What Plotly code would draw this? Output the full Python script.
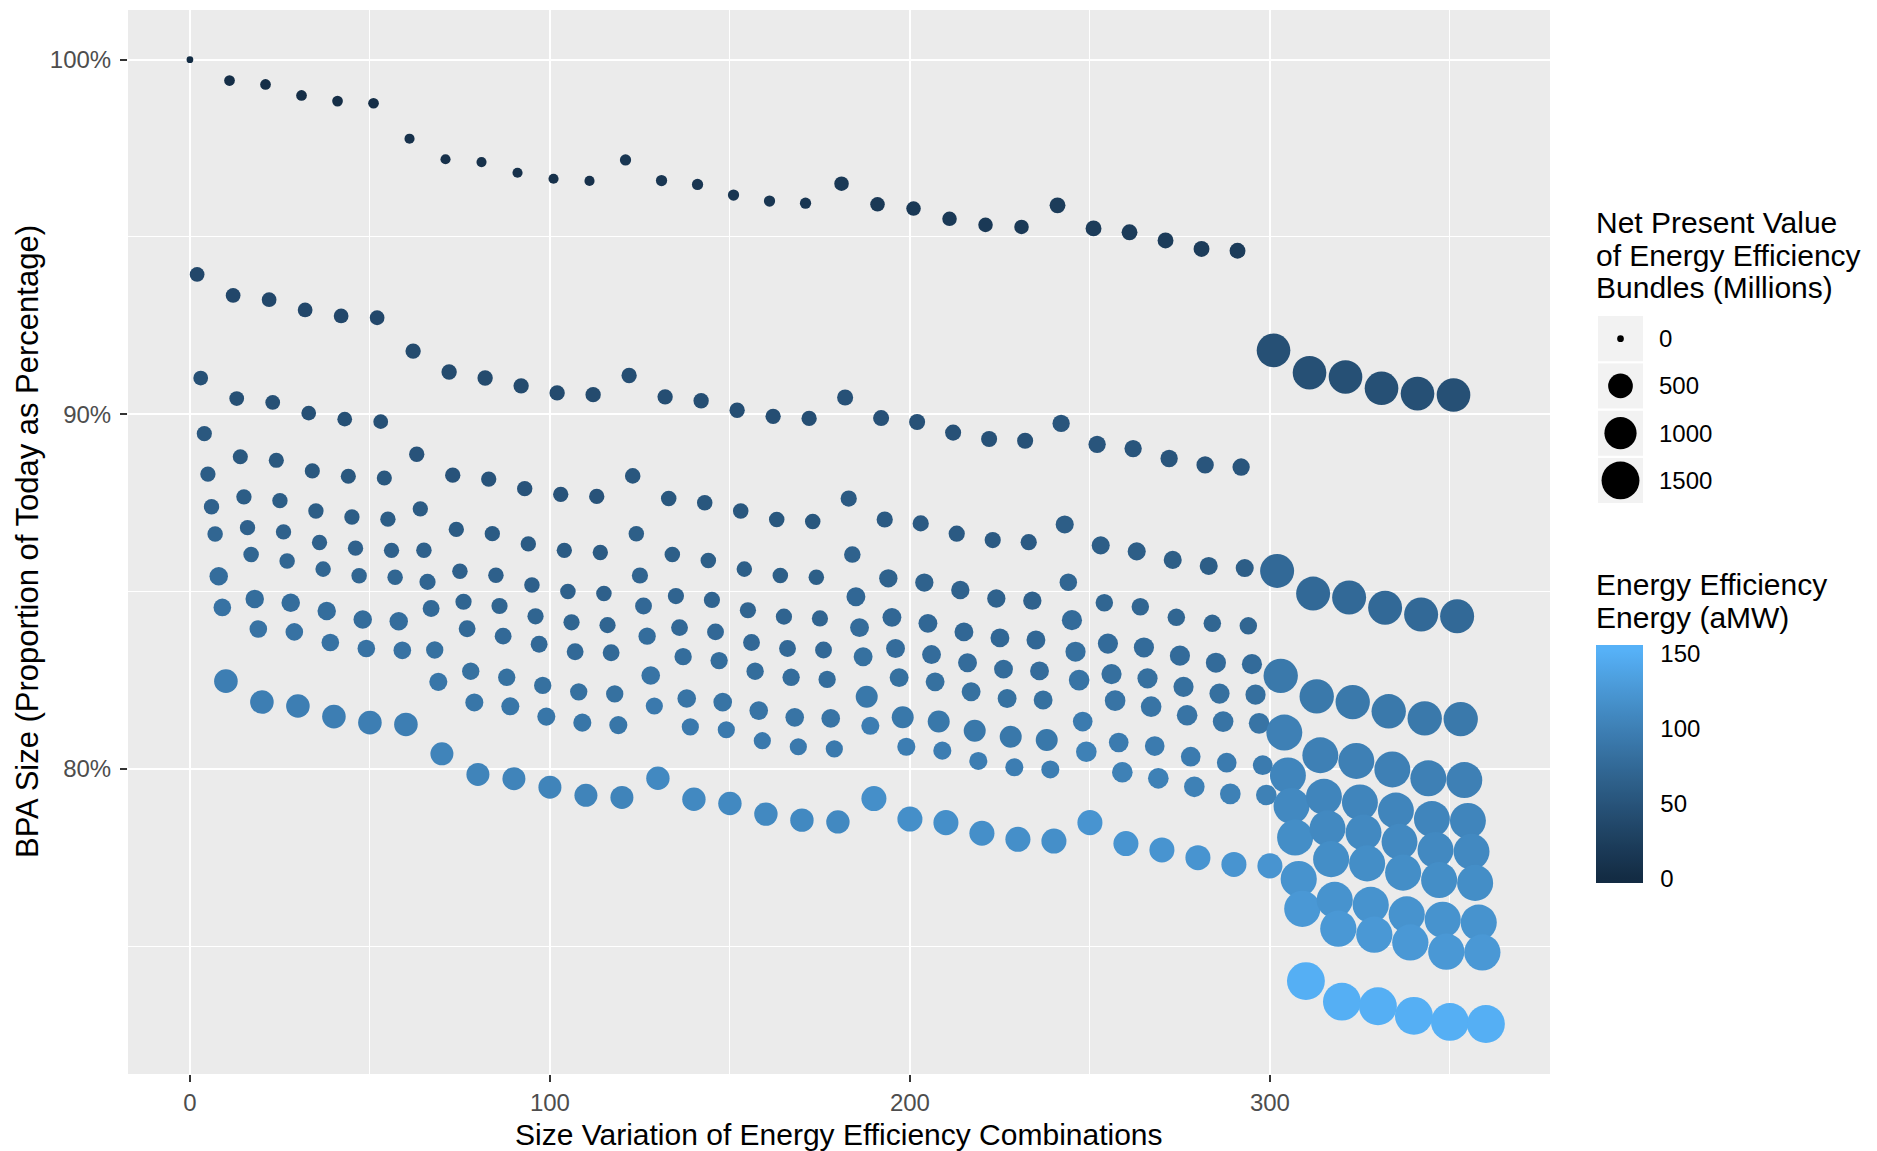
import math
import plotly.graph_objects as go

# ---------------- data ----------------
# combination index (x) per bundle row, left block (clusters 0..29)
X_A = [0, 11, 21, 31, 41, 51, 61, 71, 81, 91, 101, 111, 121, 131, 141, 151, 161, 171, 181, 191, 201, 211, 221, 231, 241, 251, 261, 271, 281, 291]
X_B = [2, 12, 22, 32, 42, 52, 62, 72, 82, 92, 102, 112, 122, 132, 142, 152, 162, 172, 182, 192, 202, 212, 222, 232, 242, 252, 262, 272, 282, 292]
X_C = [3, 13, 23, 33, 43, 53, 63, 73, 83, 93, 103, 113, 123, 133, 143, 153, 163, 173, 183, 193, 203, 213, 223, 233, 243, 253, 263, 273, 283, 293]
X_D = [4, 14, 24, 34, 44, 54, 64, 74, 84, 94, 104, 114, 124, 134, 144, 154, 164, 174, 184, 194, 204, 214, 224, 234, 244, 254, 264, 274, 284, 294]
X_E = [5, 15, 25, 35, 45, 55, 65, 75, 85, 95, 105, 115, 125, 135, 145, 155, 165, 175, 185, 195, 205, 215, 225, 235, 245, 255, 265, 275, 285, 295]
X_F = [6, 16, 26, 36, 46, 56, 66, 76, 86, 96, 106, 116, 126, 136, 146, 156, 166, 176, 186, 196, 206, 216, 226, 236, 246, 256, 266, 276, 286, 296]
X_G = [7, 17, 27, 37, 47, 57, 67, 77, 87, 97, 107, 117, 127, 137, 147, 157, 167, 177, 187, 197, 207, 217, 227, 237, 247, 257, 267, 277, 287, 297]
X_H = [8, 18, 28, 38, 48, 58, 68, 78, 88, 98, 108, 118, 128, 138, 148, 158, 168, 178, 188, 198, 208, 218, 228, 238, 248, 258, 268, 278, 288, 298]
X_I = [9, 19, 29, 39, 49, 59, 69, 79, 89, 99, 109, 119, 129, 139, 149, 159, 169, 179, 189, 199, 209, 219, 229, 239, 249, 259, 269, 279, 289, 299]
X_J = [10, 20, 30, 40, 50, 60, 70, 80, 90, 100, 110, 120, 130, 140, 150, 160, 170, 180, 190, 200, 210, 220, 230, 240, 250, 260, 270, 280, 290, 300]

# BPA size, % of today
Y_A = [100.00, 99.41, 99.30, 98.99, 98.83, 98.77, 97.77, 97.19, 97.11, 96.81, 96.64, 96.58, 97.17, 96.59, 96.48, 96.18, 96.01, 95.95, 96.50, 95.92, 95.80, 95.51, 95.34, 95.28, 95.89, 95.24, 95.13, 94.90, 94.66, 94.61]
Y_B = [93.94, 93.35, 93.23, 92.94, 92.77, 92.72, 91.78, 91.19, 91.02, 90.80, 90.60, 90.55, 91.09, 90.49, 90.38, 90.11, 89.94, 89.88, 90.47, 89.89, 89.78, 89.48, 89.30, 89.25, 89.74, 89.15, 89.03, 88.75, 88.57, 88.51]
Y_C = [91.02, 90.44, 90.33, 90.03, 89.86, 89.79, 88.87, 88.28, 88.17, 87.90, 87.74, 87.68, 88.26, 87.62, 87.50, 87.27, 87.03, 86.97, 87.62, 87.03, 86.92, 86.63, 86.45, 86.39, 86.89, 86.30, 86.13, 85.89, 85.72, 85.66]
Y_D = [89.45, 88.80, 88.70, 88.40, 88.25, 88.20, 87.33, 86.75, 86.63, 86.34, 86.16, 86.10, 86.63, 86.04, 85.87, 85.63, 85.45, 85.40, 86.04, 85.37, 85.25, 85.04, 84.80, 84.74, 85.26, 84.68, 84.57, 84.27, 84.10, 84.03]
Y_E = [88.31, 87.67, 87.56, 87.27, 87.10, 87.04, 86.16, 85.57, 85.46, 85.18, 85.00, 84.94, 85.45, 84.87, 84.76, 84.47, 84.29, 84.24, 84.85, 84.27, 84.10, 83.86, 83.69, 83.63, 84.19, 83.53, 83.42, 83.19, 82.99, 82.95]
Y_F = [87.39, 86.80, 86.68, 86.38, 86.22, 86.16, 85.27, 84.71, 84.59, 84.30, 84.13, 84.05, 84.59, 83.98, 83.86, 83.56, 83.39, 83.35, 83.98, 83.39, 83.22, 82.99, 82.81, 82.76, 83.30, 82.67, 82.55, 82.31, 82.12, 82.09]
Y_G = [86.62, 86.04, 85.86, 85.63, 85.44, 85.40, 84.52, 83.95, 83.74, 83.51, 83.30, 83.27, 83.74, 83.16, 83.05, 82.75, 82.58, 82.52, 83.16, 82.57, 82.45, 82.17, 81.98, 81.94, 82.50, 81.92, 81.75, 81.51, 81.33, 81.28]
Y_H = [85.43, 84.79, 84.68, 84.45, 84.21, 84.16, 83.35, 82.75, 82.58, 82.35, 82.17, 82.11, 82.63, 81.98, 81.88, 81.64, 81.45, 81.42, 82.03, 81.45, 81.33, 81.07, 80.90, 80.81, 81.33, 80.74, 80.64, 80.34, 80.17, 80.10]
Y_I = [84.55, 83.94, 83.86, 83.56, 83.39, 83.34, 82.45, 81.87, 81.76, 81.47, 81.30, 81.23, 81.77, 81.18, 81.10, 80.79, 80.62, 80.56, 81.21, 80.62, 80.51, 80.22, 80.04, 79.98, 80.48, 79.90, 79.73, 79.49, 79.29, 79.26]
Y_J = [82.47, 81.88, 81.77, 81.47, 81.30, 81.25, 80.42, 79.84, 79.72, 79.48, 79.25, 79.19, 79.73, 79.14, 79.02, 78.72, 78.55, 78.50, 79.16, 78.58, 78.48, 78.18, 78.01, 77.96, 78.48, 77.89, 77.71, 77.49, 77.30, 77.26]

# Net present value (millions)
NPV_A = [0, 25, 25, 25, 25, 25, 18, 18, 18, 18, 18, 18, 32, 32, 32, 32, 32, 32, 95, 95, 95, 95, 95, 95, 130, 130, 130, 130, 130, 130]
NPV_B = [100, 100, 100, 100, 100, 100, 115, 115, 115, 115, 115, 115, 115, 115, 115, 115, 115, 115, 135, 135, 135, 135, 135, 135, 175, 175, 175, 175, 175, 175]
NPV_C = [100, 100, 100, 100, 100, 100, 115, 115, 115, 115, 115, 115, 120, 120, 120, 120, 120, 120, 140, 140, 140, 140, 140, 140, 200, 200, 200, 200, 200, 200]
NPV_D = [110, 110, 110, 110, 110, 110, 115, 115, 115, 115, 115, 115, 120, 120, 120, 120, 120, 120, 150, 210, 210, 210, 210, 210, 180, 180, 180, 180, 180, 180]
NPV_E = [115, 115, 115, 115, 115, 115, 120, 120, 120, 120, 120, 120, 140, 140, 140, 140, 140, 140, 230, 230, 230, 230, 230, 230, 280, 280, 280, 280, 280, 280]
NPV_F = [115, 115, 115, 115, 115, 115, 140, 140, 140, 140, 140, 140, 160, 160, 160, 160, 160, 160, 230, 230, 230, 230, 230, 230, 280, 280, 280, 280, 280, 280]
NPV_G = [120, 120, 120, 120, 120, 120, 160, 160, 160, 160, 160, 160, 175, 175, 175, 175, 175, 175, 230, 230, 230, 230, 230, 230, 300, 300, 300, 300, 300, 300]
NPV_H = [215, 215, 215, 215, 215, 215, 175, 175, 175, 175, 175, 175, 220, 220, 220, 220, 220, 220, 360, 360, 360, 360, 360, 360, 260, 260, 260, 260, 260, 260]
NPV_I = [185, 185, 185, 185, 185, 185, 200, 200, 200, 200, 200, 200, 170, 170, 170, 170, 170, 170, 200, 200, 200, 200, 200, 200, 300, 300, 300, 300, 300, 300]
NPV_J = [440, 440, 440, 440, 440, 440, 410, 410, 410, 410, 410, 410, 430, 430, 430, 430, 430, 430, 520, 520, 520, 520, 520, 520, 520, 520, 520, 520, 520, 520]

# Energy efficiency energy (aMW)
AMW_A = [0, 4, 4, 4, 4, 4, 8, 8, 8, 8, 8, 8, 14, 14, 14, 14, 14, 14, 18, 18, 18, 18, 18, 18, 22, 22, 22, 22, 22, 22]
AMW_B = [36, 36, 36, 36, 36, 36, 40, 40, 40, 40, 40, 40, 44, 44, 44, 44, 44, 44, 48, 48, 48, 48, 48, 48, 52, 52, 52, 52, 52, 52]
AMW_C = [46, 46, 46, 46, 46, 46, 50, 50, 50, 50, 50, 50, 54, 54, 54, 54, 54, 54, 58, 58, 58, 58, 58, 58, 62, 62, 62, 62, 62, 62]
AMW_D = [55, 55, 55, 55, 55, 55, 59, 59, 59, 59, 59, 59, 63, 63, 63, 63, 63, 63, 67, 67, 67, 67, 67, 67, 71, 71, 71, 71, 71, 71]
AMW_E = [61, 61, 61, 61, 61, 61, 65, 65, 65, 65, 65, 65, 69, 69, 69, 69, 69, 69, 73, 73, 73, 73, 73, 73, 77, 77, 77, 77, 77, 77]
AMW_F = [66, 66, 66, 66, 66, 66, 70, 70, 70, 70, 70, 70, 74, 74, 74, 74, 74, 74, 78, 78, 78, 78, 78, 78, 82, 82, 82, 82, 82, 82]
AMW_G = [71, 71, 71, 71, 71, 71, 75, 75, 75, 75, 75, 75, 79, 79, 79, 79, 79, 79, 83, 83, 83, 83, 83, 83, 87, 87, 87, 87, 87, 87]
AMW_H = [79, 79, 79, 79, 79, 79, 83, 83, 83, 83, 83, 83, 87, 87, 87, 87, 87, 87, 91, 91, 91, 91, 91, 91, 95, 95, 95, 95, 95, 95]
AMW_I = [85, 85, 85, 85, 85, 85, 89, 89, 89, 89, 89, 89, 93, 93, 93, 93, 93, 93, 97, 97, 97, 97, 97, 97, 101, 101, 101, 101, 101, 101]
AMW_J = [98, 98, 98, 98, 98, 98, 104, 104, 104, 104, 104, 104, 110, 110, 110, 110, 110, 110, 116, 116, 116, 116, 116, 116, 122, 122, 122, 122, 122, 122]

# right block (clusters 30..35), ten bundle rows
X_R1 = [301, 311, 321, 331, 341, 351]
X_R2 = [302, 312, 322, 332, 342, 352]
X_R3 = [303, 313, 323, 333, 343, 353]
X_R4 = [304, 314, 324, 334, 344, 354]
X_R5 = [305, 315, 325, 335, 345, 355]
X_R6 = [306, 316, 326, 336, 346, 356]
X_R7 = [307, 317, 327, 337, 347, 357]
X_R8 = [308, 318, 328, 338, 348, 358]
X_R9 = [309, 319, 329, 339, 349, 359]
X_R10 = [310, 320, 330, 340, 350, 360]

Y_R1 = [91.80, 91.17, 91.05, 90.73, 90.58, 90.54]
Y_R2 = [85.58, 84.94, 84.83, 84.54, 84.35, 84.30]
Y_R3 = [82.62, 82.04, 81.88, 81.62, 81.42, 81.40]
Y_R4 = [81.02, 80.38, 80.22, 79.98, 79.73, 79.68]
Y_R5 = [79.81, 79.21, 79.05, 78.82, 78.58, 78.53]
Y_R6 = [78.95, 78.32, 78.20, 77.94, 77.71, 77.66]
Y_R7 = [78.06, 77.45, 77.33, 77.07, 76.86, 76.78]
Y_R8 = [76.89, 76.30, 76.16, 75.89, 75.74, 75.66]
Y_R9 = [76.05, 75.49, 75.32, 75.10, 74.84, 74.82]
Y_R10 = [74.01, 73.43, 73.30, 73.03, 72.86, 72.80]

NPV_R1 = [1120, 1120, 1120, 1120, 1120, 1120]
NPV_R2 = [1150, 1150, 1150, 1150, 1150, 1150]
NPV_R3 = [1180, 1180, 1180, 1180, 1180, 1180]
NPV_R4 = [1320, 1320, 1320, 1320, 1320, 1320]
NPV_R5 = [1320, 1320, 1320, 1320, 1320, 1320]
NPV_R6 = [1320, 1320, 1320, 1320, 1320, 1320]
NPV_R7 = [1330, 1330, 1330, 1330, 1330, 1330]
NPV_R8 = [1340, 1340, 1340, 1340, 1340, 1340]
NPV_R9 = [1350, 1350, 1350, 1350, 1350, 1350]
NPV_R10 = [1500, 1500, 1500, 1500, 1500, 1500]

AMW_R1 = [46, 46, 46, 46, 46, 46]
AMW_R2 = [75, 75, 75, 75, 75, 75]
AMW_R3 = [92, 92, 92, 92, 92, 92]
AMW_R4 = [100, 100, 100, 100, 100, 100]
AMW_R5 = [106, 106, 106, 106, 106, 106]
AMW_R6 = [110, 110, 110, 110, 110, 110]
AMW_R7 = [115, 115, 115, 115, 115, 115]
AMW_R8 = [120, 120, 120, 120, 120, 120]
AMW_R9 = [126, 126, 126, 126, 126, 126]
AMW_R10 = [150, 150, 150, 150, 150, 150]

# axis / legend labels
X_TICKS = [0, 100, 200, 300]
X_MINOR = [50, 150, 250, 350]
Y_TICKS = [80, 90, 100]
Y_TICK_TEXT = ["80%", "90%", "100%"]
Y_MINOR = [75, 85, 95]
SIZE_BREAKS = [0, 500, 1000, 1500]
COLOR_BREAKS = [0, 50, 100, 150]
AMW_LIMITS = (0, 152)

ROWS = [
    (X_A, Y_A, NPV_A, AMW_A), (X_B, Y_B, NPV_B, AMW_B), (X_C, Y_C, NPV_C, AMW_C),
    (X_D, Y_D, NPV_D, AMW_D), (X_E, Y_E, NPV_E, AMW_E), (X_F, Y_F, NPV_F, AMW_F),
    (X_G, Y_G, NPV_G, AMW_G), (X_H, Y_H, NPV_H, AMW_H), (X_I, Y_I, NPV_I, AMW_I),
    (X_J, Y_J, NPV_J, AMW_J),
    (X_R1, Y_R1, NPV_R1, AMW_R1), (X_R2, Y_R2, NPV_R2, AMW_R2), (X_R3, Y_R3, NPV_R3, AMW_R3),
    (X_R4, Y_R4, NPV_R4, AMW_R4), (X_R5, Y_R5, NPV_R5, AMW_R5), (X_R6, Y_R6, NPV_R6, AMW_R6),
    (X_R7, Y_R7, NPV_R7, AMW_R7), (X_R8, Y_R8, NPV_R8, AMW_R8), (X_R9, Y_R9, NPV_R9, AMW_R9),
    (X_R10, Y_R10, NPV_R10, AMW_R10),
]

# ---------------- scales ----------------
def size_px(v):
    # ggplot-like area scale: diameter grows with sqrt(value)
    return 6.7 + 0.805 * math.sqrt(max(v, 0))


def _lin(c):
    c = c / 255.0
    return c / 12.92 if c <= 0.04045 else ((c + 0.055) / 1.055) ** 2.4


def _delin(c):
    c = c * 12.92 if c <= 0.0031308 else 1.055 * max(c, 0) ** (1 / 2.4) - 0.055
    return max(0, min(255, round(c * 255)))


WHITE = (0.95047, 1.0, 1.08883)


def hex_to_lab(h):
    r, g, b = [_lin(int(h[i:i + 2], 16)) for i in (1, 3, 5)]
    X = 0.4124 * r + 0.3576 * g + 0.1805 * b
    Y = 0.2126 * r + 0.7152 * g + 0.0722 * b
    Z = 0.0193 * r + 0.1192 * g + 0.9505 * b

    def f(t):
        return t ** (1 / 3) if t > (6 / 29) ** 3 else t / (3 * (6 / 29) ** 2) + 4 / 29
    fx, fy, fz = f(X / WHITE[0]), f(Y / WHITE[1]), f(Z / WHITE[2])
    return (116 * fy - 16, 500 * (fx - fy), 200 * (fy - fz))


def lab_to_hex(L, a, b):
    fy = (L + 16) / 116
    fx = fy + a / 500
    fz = fy - b / 200

    def finv(t):
        return t ** 3 if t > 6 / 29 else 3 * (6 / 29) ** 2 * (t - 4 / 29)
    X, Y, Z = WHITE[0] * finv(fx), WHITE[1] * finv(fy), WHITE[2] * finv(fz)
    r = 3.2406 * X - 1.5372 * Y - 0.4986 * Z
    g = -0.9689 * X + 1.8758 * Y + 0.0415 * Z
    bb = 0.0557 * X - 0.2040 * Y + 1.0570 * Z
    return "#%02X%02X%02X" % (_delin(r), _delin(g), _delin(bb))


LOW, HIGH = hex_to_lab("#132B43"), hex_to_lab("#56B1F7")
CMIN, CMAX = -3.0, 156.0  # extent of the drawn colour bar
colorscale = []
N = 40
for i in range(N + 1):
    v = CMIN + (CMAX - CMIN) * i / N
    t = min(1.0, max(0.0, (v - AMW_LIMITS[0]) / (AMW_LIMITS[1] - AMW_LIMITS[0])))
    col = lab_to_hex(*[LOW[k] + (HIGH[k] - LOW[k]) * t for k in range(3)])
    colorscale.append([i / N, col])

# ---------------- geometry ----------------
# the page body adds an 8px offset; all positions below are in reference-image pixels
OFF = 8
W, H = 1877 - OFF, 1151 - OFF
PANEL_L, PANEL_R, PANEL_T, PANEL_B = 128, 1550, 10, 1074
ML, MT = PANEL_L - OFF, PANEL_T - OFF
MR = 10
MB = H - (PANEL_B - OFF)
PW, PH = W - ML - MR, H - MT - MB


def px_x(X):
    return (X - PANEL_L) / PW


def px_y(Y):
    return (PANEL_B - Y) / PH


FONT = "Liberation Sans, Arial, sans-serif"

# ---------------- points ----------------
pts = []
for xs, ys, ns, es in ROWS:
    for a, b, c, d in zip(xs, ys, ns, es):
        pts.append((a, b, c, d))
pts.sort(key=lambda p: p[0])

BAR_X0, BAR_W = 1596, 47
BAR_TOP, BAR_BOT = 645, 883

fig = go.Figure()
fig.add_trace(go.Scatter(
    x=[p[0] for p in pts], y=[p[1] for p in pts], mode="markers",
    marker=dict(
        size=[size_px(p[2]) for p in pts], sizemode="diameter",
        color=[p[3] for p in pts], colorscale=colorscale, cmin=CMIN, cmax=CMAX,
        line=dict(width=0), opacity=1,
        colorbar=dict(
            x=px_x(BAR_X0), xanchor="left", y=px_y(BAR_BOT), yanchor="bottom",
            len=BAR_BOT - BAR_TOP, lenmode="pixels", thickness=BAR_W, thicknessmode="pixels",
            outlinewidth=0, xpad=0, ypad=0, tickmode="array", tickvals=COLOR_BREAKS,
            ticks="outside", ticklen=13, tickcolor="rgba(0,0,0,0)",
            tickfont=dict(family=FONT, size=24, color="black"), title=dict(text=""),
        ),
    ),
    hoverinfo="skip", showlegend=False,
))

# size legend drawn on its own small axes
KEY_X0, KEY_X1, KEY_TOP, KEY_BOT = 1597, 1644, 315, 504
fig.add_trace(go.Scatter(
    x=[0.5] * len(SIZE_BREAKS), y=[len(SIZE_BREAKS) - i - 0.5 for i in range(len(SIZE_BREAKS))],
    xaxis="x2", yaxis="y2", mode="markers",
    marker=dict(size=[size_px(v) for v in SIZE_BREAKS], color="#000000", opacity=1, line=dict(width=0)),
    hoverinfo="skip", showlegend=False,
))

shapes = []
for i in range(len(SIZE_BREAKS)):
    shapes.append(dict(type="rect", xref="x2", yref="y2", x0=0, x1=1, y0=i, y1=i + 1,
                       fillcolor="#F2F2F2", line=dict(color="white", width=2), layer="below"))
# white tick marks on the colour bar
for v in COLOR_BREAKS:
    yy = px_y(BAR_BOT - (v - CMIN) / (CMAX - CMIN) * (BAR_BOT - BAR_TOP))
    for a, b in ((BAR_X0, BAR_X0 + BAR_W / 5), (BAR_X0 + BAR_W * 4 / 5, BAR_X0 + BAR_W)):
        shapes.append(dict(type="line", xref="paper", yref="paper", x0=px_x(a), x1=px_x(b),
                           y0=yy, y1=yy, line=dict(color="white", width=1.6), layer="above"))

annotations = []
for i, v in enumerate(SIZE_BREAKS):
    annotations.append(dict(text=str(v), xref="x2", yref="y2", x=1, y=len(SIZE_BREAKS) - i - 0.5,
                            xanchor="left", yanchor="middle", xshift=13, showarrow=False,
                            font=dict(family=FONT, size=24, color="black")))
for txt, yc in (("Net Present Value", 222), ("of Energy Efficiency", 255), ("Bundles (Millions)", 287),
                ("Energy Efficiency", 584), ("Energy (aMW)", 617)):
    annotations.append(dict(text=txt, xref="paper", yref="paper", x=px_x(1594), y=px_y(yc),
                            xanchor="left", yanchor="middle", showarrow=False,
                            font=dict(family=FONT, size=30, color="black")))
annotations.append(dict(text="Size Variation of Energy Efficiency Combinations", xref="paper", yref="paper",
                        x=px_x((PANEL_L + PANEL_R) / 2), y=px_y(1134), xanchor="center", yanchor="middle",
                        showarrow=False, font=dict(family=FONT, size=30, color="black")))
annotations.append(dict(text="BPA Size (Proportion of Today as Percentage)", xref="paper", yref="paper",
                        x=px_x(27), y=px_y(542), xanchor="center", yanchor="middle", textangle=-90,
                        showarrow=False, font=dict(family=FONT, size=31, color="black")))

axis_common = dict(showgrid=True, gridcolor="white", gridwidth=2.2, zeroline=False, showline=False,
                   ticks="outside", ticklen=7, tickwidth=2, tickcolor="#333333",
                   tickfont=dict(family=FONT, size=24, color="#4D4D4D"), fixedrange=True)

fig.update_layout(
    width=W, height=H,
    margin=dict(l=ML, r=MR, t=MT, b=MB, autoexpand=False),
    paper_bgcolor="white", plot_bgcolor="#EBEBEB",
    font=dict(family=FONT),
    xaxis=dict(domain=[0, px_x(PANEL_R)], range=[-17.2, 377.8], tickmode="array", tickvals=X_TICKS,
               minor=dict(tickmode="array", tickvals=X_MINOR, showgrid=True, gridcolor="white",
                          gridwidth=1.4, ticks=""),
               ticklabelstandoff=0, **axis_common),
    yaxis=dict(domain=[0, 1], range=[71.39, 101.40], tickmode="array", tickvals=Y_TICKS, ticktext=Y_TICK_TEXT,
               minor=dict(tickmode="array", tickvals=Y_MINOR, showgrid=True, gridcolor="white",
                          gridwidth=1.4, ticks=""),
               ticklabelstandoff=4, **axis_common),
    xaxis2=dict(domain=[px_x(KEY_X0), px_x(KEY_X1)], range=[0, 1], visible=False, anchor="y2", fixedrange=True),
    yaxis2=dict(domain=[px_y(KEY_BOT), px_y(KEY_TOP)], range=[0, len(SIZE_BREAKS)], visible=False,
                anchor="x2", fixedrange=True),
    shapes=shapes, annotations=annotations, showlegend=False,
)

fig.write_html("out.html")
